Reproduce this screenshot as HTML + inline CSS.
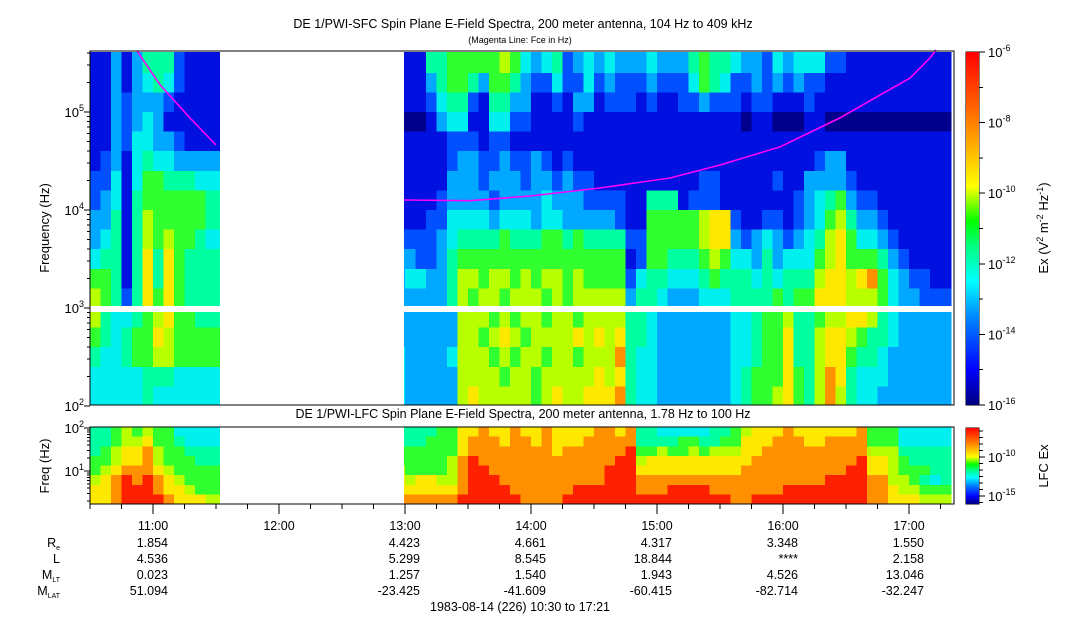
<!DOCTYPE html>
<html><head><meta charset="utf-8">
<style>
html,body{margin:0;padding:0;background:#fff;}
body{width:1083px;height:620px;overflow:hidden;font-family:"Liberation Sans",Arial,sans-serif;}
svg text{font-family:"Liberation Sans",Arial,sans-serif;fill:#000;}
</style></head>
<body>
<svg id="chart" width="1083" height="620" viewBox="0 0 1083 620" xmlns="http://www.w3.org/2000/svg" shape-rendering="crispEdges">
<defs>
<linearGradient id="jet" x1="0" y1="1" x2="0" y2="0">
<stop offset="0" stop-color="#00007f"/><stop offset="0.1" stop-color="#0000ff"/><stop offset="0.25" stop-color="#0088ff"/><stop offset="0.35" stop-color="#00ffff"/><stop offset="0.45" stop-color="#00ff80"/><stop offset="0.52" stop-color="#00ff00"/><stop offset="0.62" stop-color="#ffff00"/><stop offset="0.8" stop-color="#ff8000"/><stop offset="1" stop-color="#ff0000"/>
</linearGradient>
<clipPath id="clipU"><rect x="90" y="51" width="130" height="354"/><rect x="404" y="51" width="550" height="354"/></clipPath>
<clipPath id="clipL"><rect x="90" y="427" width="130" height="77"/><rect x="404" y="427" width="550" height="77"/></clipPath>
</defs>
<text x="523" y="28" font-size="12.5" text-anchor="middle">DE 1/PWI-SFC  Spin Plane E-Field Spectra, 200 meter antenna, 104 Hz to 409 kHz</text>
<text x="520" y="43" font-size="9" text-anchor="middle">(Magenta Line: Fce in Hz)</text>
<text x="523" y="418" font-size="12.5" text-anchor="middle">DE 1/PWI-LFC  Spin Plane E-Field Spectra, 200 meter antenna, 1.78 Hz to 100 Hz</text>
<g id="upperCells" clip-path="url(#clipU)"></g>
<rect x="90" y="306" width="864" height="6" fill="#fff"/>
<g id="lowerCells" clip-path="url(#clipL)"></g>
<g id="fce"></g>
<rect x="90" y="51" width="864" height="354" fill="none" stroke="#000" stroke-width="1"/>
<rect x="90" y="427" width="864" height="77" fill="none" stroke="#000" stroke-width="1"/>
<g id="axes"></g>
<text transform="translate(49,228) rotate(-90)" font-size="13" text-anchor="middle">Frequency (Hz)</text>
<text transform="translate(49,466) rotate(-90)" font-size="13" text-anchor="middle">Freq (Hz)</text>
<rect x="966" y="52" width="13" height="353" fill="url(#jet)"/>
<rect x="966" y="428" width="13" height="76" fill="url(#jet)"/>
<text transform="translate(1048,228) rotate(-90)" font-size="13" text-anchor="middle">Ex (V<tspan font-size="9" dy="-5">2</tspan><tspan dy="5"> m</tspan><tspan font-size="9" dy="-5">-2</tspan><tspan dy="5"> Hz</tspan><tspan font-size="9" dy="-5">-1</tspan><tspan dy="5">)</tspan></text>
<text transform="translate(1048,466) rotate(-90)" font-size="13" text-anchor="middle">LFC Ex</text>
<g id="eph"></g>
<text x="520" y="611" font-size="12.5" text-anchor="middle">1983-08-14 (226) 10:30 to 17:21</text>
</svg>
<script>
// ---- data ----
const upperRowEdges=[5.61,5.4,5.2,5.0,4.8,4.6,4.4,4.2,4.0,3.8,3.6,3.4,3.2,3.0,2.8,2.6,2.4,2.2,2.0];
const GAP="................";
const upperLeft=[
"1131355521111","1131345421111","1132333211111","1132343111111","1132443321111","1231454433333",
"2241466555444","2341566666655","3351576666655","3451576766544","4551585865555","6651585865555",
"7652586865555","7544567866555","6545668766666","5445667766666","4444455544444","4444454444444"];
const upperRight=[
"111"+"5566"+"66"+"676"+"4345"+"2343"+"433"+"3433"+"3565"+"54"+"33243"+"4442"+"211"+"111"+"11111",
"111"+"3566"+"53"+"665"+"3224"+"2242"+"322"+"2322"+"2465"+"42"+"23232"+"3221"+"111"+"111"+"11111",
"111"+"2455"+"21"+"553"+"3112"+"1331"+"222"+"1211"+"2232"+"22"+"12211"+"1211"+"111"+"111"+"11111",
"000"+"1344"+"11"+"442"+"2111"+"1211"+"111"+"1111"+"1111"+"11"+"01100"+"0110"+"000"+"000"+"00000",
"111"+"1122"+"21"+"221"+"1111"+"1111"+"111"+"1111"+"1111"+"11"+"11111"+"1111"+"111"+"111"+"11111",
"111"+"1123"+"32"+"232"+"2321"+"2111"+"111"+"1111"+"1111"+"11"+"11111"+"1123"+"311"+"111"+"11111",
"111"+"1133"+"32"+"333"+"2332"+"3221"+"111"+"1111"+"1122"+"11"+"11121"+"1333"+"321"+"111"+"11111",
"111"+"1233"+"33"+"233"+"3343"+"3322"+"221"+"1555"+"1222"+"11"+"11111"+"2345"+"632"+"211"+"11111",
"111"+"2244"+"44"+"344"+"4344"+"3333"+"321"+"1666"+"6678"+"82"+"11221"+"2346"+"753"+"321"+"11111",
"222"+"2345"+"55"+"565"+"5566"+"5655"+"552"+"2666"+"6678"+"83"+"23432"+"3457"+"864"+"432"+"11111",
"332"+"2356"+"66"+"666"+"6666"+"6666"+"661"+"2665"+"5567"+"64"+"43534"+"4467"+"866"+"653"+"21111",
"344"+"3357"+"76"+"776"+"7677"+"6766"+"662"+"4554"+"4456"+"55"+"54545"+"5578"+"878"+"964"+"32211",
"333"+"3357"+"67"+"767"+"7767"+"6777"+"773"+"5543"+"3344"+"45"+"55565"+"6688"+"877"+"764"+"33222",
"333"+"3337"+"77"+"676"+"7767"+"7677"+"775"+"5433"+"3333"+"34"+"45667"+"5567"+"788"+"754"+"33333",
"333"+"3337"+"76"+"787"+"6777"+"7878"+"785"+"5433"+"3333"+"34"+"45668"+"5578"+"876"+"554"+"33333",
"433"+"3347"+"77"+"676"+"7767"+"7677"+"795"+"4433"+"3333"+"34"+"45668"+"5578"+"865"+"543"+"33333",
"433"+"3337"+"77"+"767"+"7677"+"7778"+"785"+"4433"+"3333"+"34"+"56668"+"6579"+"854"+"443"+"33333",
"433"+"3337"+"87"+"777"+"7678"+"7788"+"895"+"4433"+"3333"+"34"+"56678"+"6579"+"754"+"433"+"33333"];
const lowerLeft=["5567676644444","5567786654444","5678897665555","6678897666555","6789998766666","789R9R9876666","889RRR9887666","889RRRR988877"];
const lowerRight=[
"555566"+"8"+"898898898888998"+"9"+"5544444556"+"788898888889"+"666"+"44444",
"555666"+"8"+"999899898889999"+"9"+"5555665566"+"888999889999"+"666"+"44444",
"666666"+"8"+"999999998999999"+"R"+"6676676777"+"889999999999"+"777"+"55555",
"666667"+"9"+"R9999999999999R"+"R"+"7888888888"+"89999999999R"+"887"+"65555",
"766667"+"9"+"RR99999999999RR"+"R"+"8888888888"+"9999999999RR"+"887"+"66655",
"878877"+"9"+"RRR9999999999RR"+"R"+"9999999999"+"99999999RRRR"+"997"+"76545",
"888888"+"9"+"RRRR999999RRRRR"+"R"+"999RRRR999"+"9999RRRRRRRR"+"998"+"77666",
"999999"+"R"+"RRRRR9999RRRRRR"+"R"+"RRRRRRRRR9"+"9RRRRRRRRRRR"+"998"+"88777"];
const fceHoursLeft=[10.873,11.056,11.294,11.5];
const fceHzLeft=[420000,189000,87000,46000];
const fceHoursRight=[12.992,13.516,13.992,14.548,15.103,15.5,15.976,16.452,16.77,17.008,17.167,17.214];
const fceHzRight=[12650,12450,13900,16750,21200,28800,44000,87000,149000,222000,356000,430000];
const hourTicks=["11:00","12:00","13:00","14:00","15:00","16:00","17:00"];
const ephRe=["1.854","","4.423","4.661","4.317","3.348","1.550"];
const ephL=["4.536","","5.299","8.545","18.844","****","2.158"];
const ephMLT=["0.023","","1.257","1.540","1.943","4.526","13.046"];
const ephMLAT=["51.094","","-23.425","-41.609","-60.415","-82.714","-32.247"];
// ---- scales ----
const NS="http://www.w3.org/2000/svg";
const palette={"0":"#00008c","1":"#0010e0","2":"#0050ff","3":"#00a8ff","4":"#00f0f0","5":"#00ffa0","6":"#30ff30","7":"#b8ff00","8":"#ffe800","9":"#ff9000","R":"#ff2000"};
const x0=90,pxPerHour=126,t0=10.5,binH=1/12;
function xOf(h){return x0+(h-t0)*pxPerHour;}
function yU(lf){return 112-(lf-5)*98;}
function yL(lf){return 471-(lf-1)*43;}
function mk(tag,attrs,parent){const e=document.createElementNS(NS,tag);for(const k in attrs)e.setAttribute(k,attrs[k]);parent.appendChild(e);return e;}
const gU=document.getElementById('upperCells'),gL=document.getElementById('lowerCells'),ax=document.getElementById('axes'),eph=document.getElementById('eph');
function drawRow(str,y1,y2,g,name){
  for(let k=0;k<str.length;k++){const c=str[k];if(!palette[c])continue;
    const xa=xOf(t0+k*binH),xb=xOf(t0+(k+1)*binH);
    const r=mk('rect',{x:xa.toFixed(1),y:y1.toFixed(1),width:(xb-xa+0.6).toFixed(1),height:(y2-y1+0.6).toFixed(1),fill:palette[c]},g);
    
    
  }
}
for(let i=0;i<upperLeft.length;i++){
  const s=upperLeft[i]+GAP+upperRight[i];
  drawRow(s,yU(upperRowEdges[i]),yU(upperRowEdges[i+1]),gU,'sfc-cell');
}
const lh=77/lowerLeft.length;
for(let i=0;i<lowerLeft.length;i++){
  const s=lowerLeft[i]+GAP+lowerRight[i];
  drawRow(s,427+i*lh,427+(i+1)*lh,gL,'lfc-cell');
}
// fce line
const fg=document.getElementById('fce');
function fcePath(hs,fs){return hs.map((h,i)=>(i?'L':'M')+xOf(h).toFixed(1)+','+yU(Math.log10(fs[i])).toFixed(1)).join(' ');}
let p1=mk('path',{d:fcePath(fceHoursLeft,fceHzLeft),stroke:'#ff00ff','stroke-width':1.6,fill:'none','shape-rendering':'auto'},fg);


let p2=mk('path',{d:fcePath(fceHoursRight,fceHzRight),stroke:'#ff00ff','stroke-width':1.6,fill:'none','shape-rendering':'auto'},fg);


// y axes
function decLabel(x,y,exp,name){const t=mk('text',{x:x,y:y+5,'font-size':13,'text-anchor':'end'},ax);t.innerHTML='10<tspan font-size="9" dy="-6">'+exp+'</tspan>';}
for(let d=2;d<=5;d++){
  const y=yU(d);mk('line',{x1:84,x2:90,y1:y,y2:y,stroke:'#000'},ax);
  decLabel(84,y,d,'y-tick-label');
  for(let m=2;m<=9;m++){const lf=d+Math.log10(m);if(lf>5.612)break;const yy=yU(lf);mk('line',{x1:87,x2:90,y1:yy,y2:yy,stroke:'#000'},ax);}
}
for(let d=0;d<=2;d++){
  for(let m=1;m<=9;m++){const lf=d+Math.log10(m);const yy=yL(lf);if(yy>504||yy<427)continue;mk('line',{x1:m==1?84:87,x2:90,y1:yy,y2:yy,stroke:'#000'},ax);}
}
decLabel(84,yL(2),2,'lfc-y-tick-label');decLabel(84,yL(1),1,'lfc-y-tick-label');
// colorbar ticks
const cbLabels=["-6","-8","-10","-12","-14","-16"];
for(let i=0;i<cbLabels.length;i++){const y=52+i*70.6;mk('line',{x1:979,x2:985,y1:y,y2:y,stroke:'#000'},ax);
  if(i<5)mk('line',{x1:979,x2:983,y1:y+35.3,y2:y+35.3,stroke:'#000'},ax);
  const t=mk('text',{x:988,y:y+5,'font-size':13},ax);t.innerHTML='10<tspan font-size="9" dy="-6">'+cbLabels[i]+'</tspan>';}
mk('rect',{x:966,y:52,width:13,height:353,fill:'none',stroke:'#000'},ax);
mk('rect',{x:966,y:428,width:13,height:76,fill:'none',stroke:'#000'},ax);
for(let y=431;y<504;y+=6.5)mk('line',{x1:979,x2:983,y1:y,y2:y,stroke:'#000'},ax);
[["-10",457],["-15",496]].forEach(a=>{mk('line',{x1:979,x2:985,y1:a[1],y2:a[1],stroke:'#000'},ax);const t=mk('text',{x:988,y:a[1]+5,'font-size':13},ax);t.innerHTML='10<tspan font-size="9" dy="-6">'+a[0]+'</tspan>';});
// time ticks
for(let q=0;q<=27;q++){const h=10.5+q*0.25;const x=xOf(h);const major=(q%4==2);mk('line',{x1:x,x2:x,y1:504,y2:major?514:509,stroke:'#000'},ax);}
// ephemeris
function tx(x,y,s,anchor,name){const t=mk('text',{x:x,y:y,'font-size':12.5,'text-anchor':anchor},eph);t.textContent=s;return t;}
const rowsY=[530,547,563,579,595];
hourTicks.forEach((s,i)=>{const x=xOf(11+i);tx(x,rowsY[0],s,'middle','time-tick-label');
  [ephRe,ephL,ephMLT,ephMLAT].forEach((arr,j)=>{if(arr[i])tx(x+15,rowsY[j+1],arr[i],'end','ephemeris-value');});});
const lbl=[["R","e"],["L",""],["M","LT"],["M","LAT"]];
lbl.forEach((l,j)=>{const t=tx(60,rowsY[j+1],'','end','ephemeris-row-label');t.innerHTML=l[0]+(l[1]?'<tspan font-size="7" dy="3">'+l[1]+'</tspan>':'');});
</script>
</body></html>
